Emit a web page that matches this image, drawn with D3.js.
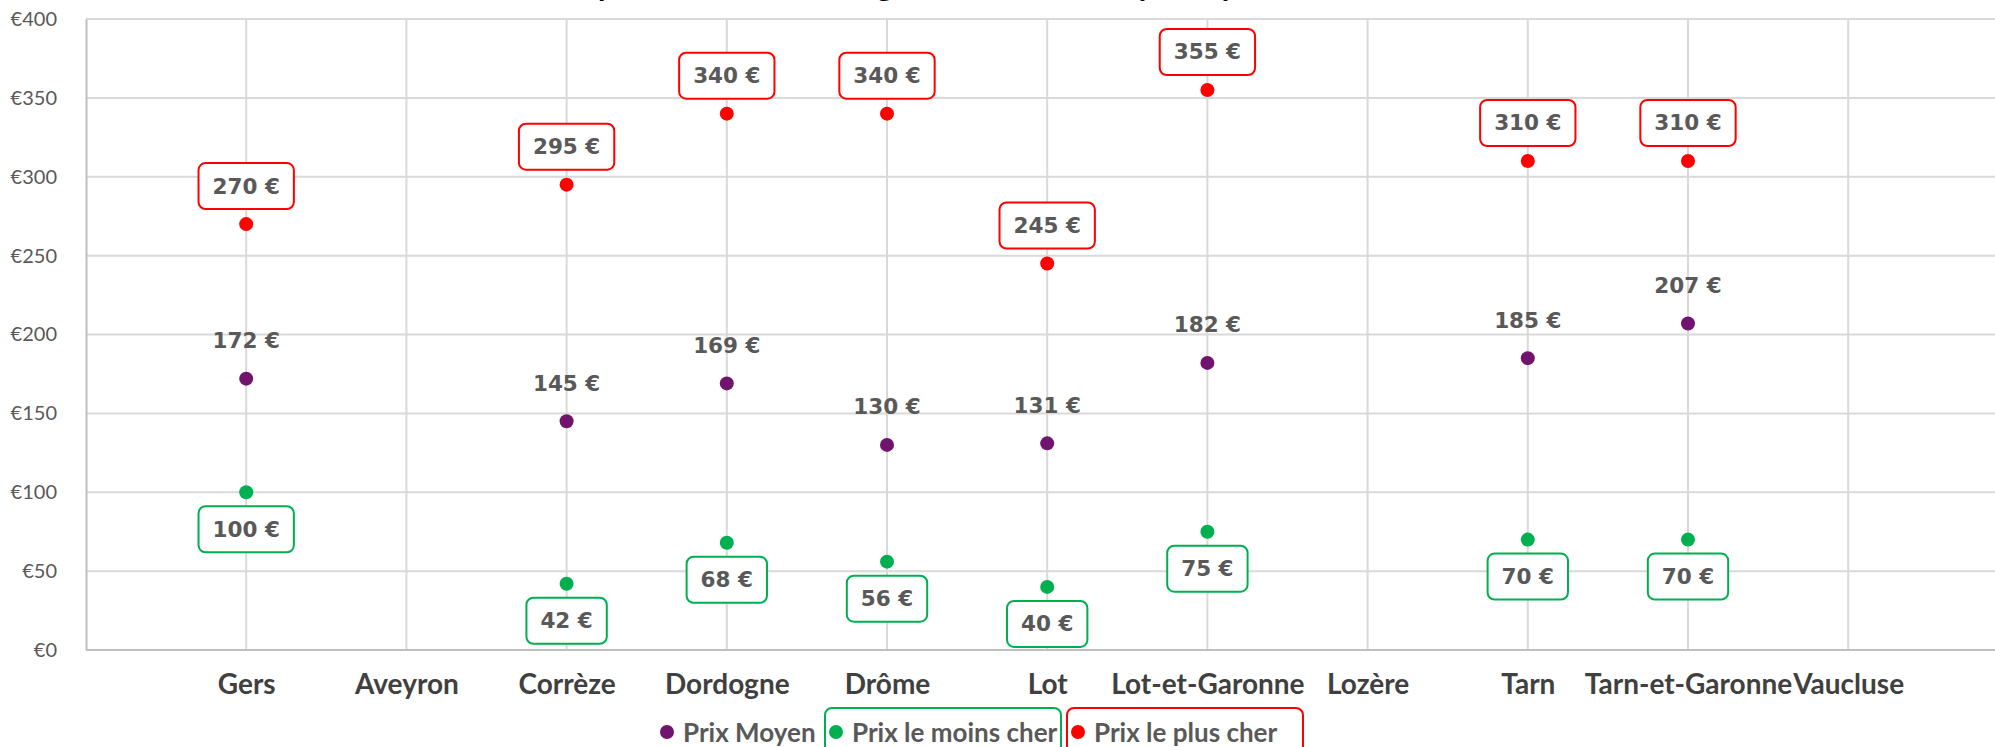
<!DOCTYPE html>
<html>
<head>
<meta charset="utf-8">
<script src="https://cdn.jsdelivr.net/npm/d3@7/dist/d3.min.js"></script>
<style>
    body { margin: 0; background: #fff; }
    svg { display: block; }
</style>
</head>
<body>
<div id="chart"></div>
<script>
var departements = ['Gers', 'Aveyron', 'Corrèze', 'Dordogne', 'Drôme', 'Lot', 'Lot-et-Garonne', 'Lozère', 'Tarn', 'Tarn-et-Garonne', 'Vaucluse'];
var prixMoyen = [172, null, 145, 169, 130, 131, 182, null, 185, 207, null];
var prixMin = [100, null, 42, 68, 56, 40, 75, null, 70, 70, null];
var prixMax = [270, null, 295, 340, 340, 245, 355, null, 310, 310, null];
var yTicks = [0, 50, 100, 150, 200, 250, 300, 350, 400];

var W = 1995, H = 747;
var plot = { left: 86, right: 1995, top: 19, bottom: 650 };

var series = [
    { name: 'Prix Moyen', values: prixMoyen, color: '#70146e', offset: -38, box: false },
    { name: 'Prix le moins cher', values: prixMin, color: '#00b050', offset: 37, box: true },
    { name: 'Prix le plus cher', values: prixMax, color: '#ff0000', offset: -38, box: true }
];

var svg = d3.select('#chart').append('svg')
    .attr('width', W)
    .attr('height', H);

var x = d3.scaleLinear().domain([0, 12]).range([plot.left, plot.left + 12 * 160.2]);
var y = d3.scaleLinear().domain([0, 400]).range([plot.bottom, plot.top]);

// title, cut off by the top edge of the picture (only descenders show)
var title = svg.append('text')
    .attr('y', -4)
    .style('font-family', 'Lato, sans-serif')
    .style('font-weight', 'bold')
    .style('font-size', '30px')
    .style('fill', '#000')
    .text('Comparatif des tarifs des gîtes du Sud-Ouest par département');
title.attr('x', 606 - title.node().getStartPositionOfChar(3).x - 8);

// grid
var grid = svg.append('g');
grid.selectAll('line.h').data(yTicks.slice(1)).enter().append('line')
    .attr('x1', plot.left).attr('x2', plot.right)
    .attr('y1', function (d) { return y(d); })
    .attr('y2', function (d) { return y(d); })
    .attr('stroke', '#d9d9d9').attr('stroke-width', 2);
grid.selectAll('line.v').data(d3.range(1, 12)).enter().append('line')
    .attr('x1', function (d) { return x(d); })
    .attr('x2', function (d) { return x(d); })
    .attr('y1', plot.top).attr('y2', plot.bottom)
    .attr('stroke', '#d9d9d9').attr('stroke-width', 2);

// axes
var yAxis = svg.append('g')
    .attr('transform', 'translate(' + plot.left + ',0)')
    .call(d3.axisLeft(y).tickValues(yTicks).tickSize(0).tickPadding(29)
        .tickFormat(function (d) { return '€' + d; }));
yAxis.select('.domain').attr('stroke', '#bfbfbf').attr('stroke-width', 2);
yAxis.selectAll('text')
    .style('font-family', 'Lato, sans-serif')
    .style('font-size', '20px')
    .style('fill', '#595959');

var xAxis = svg.append('g')
    .attr('transform', 'translate(0,' + plot.bottom + ')')
    .call(d3.axisBottom(x).tickValues(d3.range(1, 12)).tickSize(0).tickPadding(24)
        .tickFormat(function (d) { return departements[d - 1]; }));
xAxis.select('.domain').remove();
xAxis.selectAll('text')
    .style('font-family', 'Lato, sans-serif')
    .style('font-weight', 'bold')
    .style('font-size', '28px')
    .style('fill', '#404040');
svg.append('line')
    .attr('x1', plot.left).attr('x2', plot.right)
    .attr('y1', plot.bottom).attr('y2', plot.bottom)
    .attr('stroke', '#bfbfbf').attr('stroke-width', 2);

// points and labels
series.forEach(function (s) {
    var pts = s.values.map(function (v, i) { return { i: i + 1, v: v }; })
        .filter(function (p) { return p.v !== null; });

    var g = svg.append('g');
    g.selectAll('circle').data(pts).enter().append('circle')
        .attr('cx', function (p) { return x(p.i); })
        .attr('cy', function (p) { return y(p.v); })
        .attr('r', 7)
        .attr('fill', s.color);

    pts.forEach(function (p) {
        var lg = g.append('g')
            .attr('transform', 'translate(' + x(p.i) + ',' + (y(p.v) + s.offset) + ')');
        var box = lg.append('rect');
        var txt = lg.append('text')
            .attr('text-anchor', 'middle')
            .attr('dominant-baseline', 'central')
            .style('font-family', '"DejaVu Sans", sans-serif')
            .style('font-weight', 'bold')
            .style('font-size', '21.5px')
            .style('fill', '#595959')
            .text(p.v + ' €');
        if (s.box) {
            var bw = txt.node().getBBox().width + 28;
            box.attr('x', -bw / 2).attr('y', -23)
                .attr('width', bw).attr('height', 46)
                .attr('rx', 7)
                .attr('fill', '#fff')
                .attr('stroke', s.color)
                .attr('stroke-width', 2);
        } else {
            box.remove();
        }
    });
});

// legend
var legend = svg.append('g').attr('transform', 'translate(667,732)');
var legendX = [0, 169, 411];
series.forEach(function (s, i) {
    var item = legend.append('g').attr('transform', 'translate(' + legendX[i] + ',0)');
    if (s.box) {
        item.append('rect')
            .attr('x', -11).attr('y', -24)
            .attr('width', 236).attr('height', 60)
            .attr('rx', 7)
            .attr('fill', 'none')
            .attr('stroke', s.color)
            .attr('stroke-width', 2);
    }
    item.append('circle').attr('r', 7).attr('fill', s.color);
    item.append('text')
        .attr('x', 16)
        .attr('dominant-baseline', 'central')
        .style('font-family', 'Lato, sans-serif')
        .style('font-weight', 'bold')
        .style('font-size', '26px')
        .style('fill', '#595959')
        .text(s.name);
});
</script>
</body>
</html>
